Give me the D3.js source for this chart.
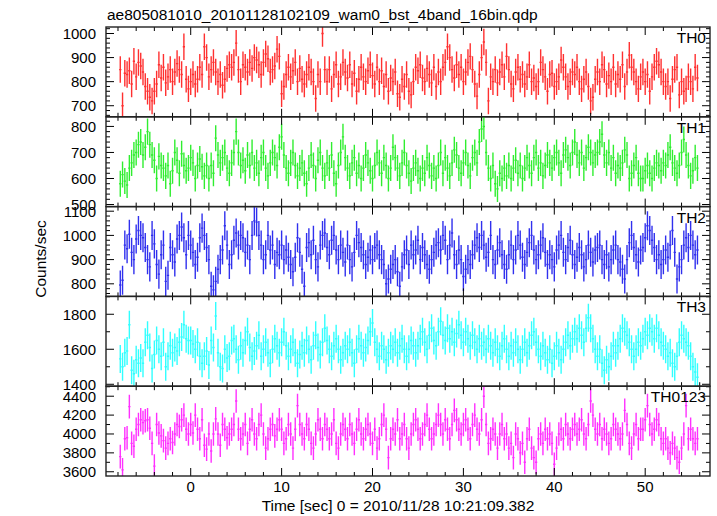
<!DOCTYPE html>
<html><head><meta charset="utf-8">
<script src="https://cdn.jsdelivr.net/npm/d3@7"></script>
<style>
html,body{margin:0;padding:0;background:#fff;}
svg text{font-family:"Liberation Sans",Arial,Helvetica,sans-serif;fill:#000;}
</style></head>
<body>
<script>
// ---- data ----
const title = "ae805081010_20101128102109_wam0_bst_4band_16bin.qdp";
const xLabel = "Time [sec] 0 = 2010/11/28 10:21:09.382";
const yLabel = "Counts/sec";
const bands = ["TH0", "TH1", "TH2", "TH3", "TH0123"];
const tStart = -7.75;      // centre of first bin (s)
const binWidth = 0.25;     // bin width (s)
const xTicks = [0, 10, 20, 30, 40, 50];
const xDomain = [-9.32, 57.13];
const yDomains = [[654, 1027], [492, 837], [748, 1119], [1389, 1902], [3555, 4506]];
const yTicks = [[700, 800, 900, 1000], [500, 600, 700, 800], [800, 900, 1000, 1100], [1400, 1600, 1800], [3600, 3800, 4000, 4200, 4400]];
const yMinorSteps = [20, 20, 20, 100, 100];
const errors = [55, 50, 60, 80, 125];   // typical 1-sigma half length of error bars
const colors = ["#ff3030", "#30ee30", "#3030ee", "#30ffff", "#ff30ff"];

const th0 = [
850,700,835,830,845,790,885,820,880,865,
840,780,760,735,720,760,790,870,815,860,
795,820,850,800,840,875,850,830,945,810,
770,800,830,790,810,860,830,945,900,820,
850,880,840,800,830,785,810,855,870,860,
880,960,850,800,870,860,840,880,855,900,
890,870,830,880,915,895,840,850,865,935,
905,750,780,830,860,820,845,880,800,855,
810,790,830,860,840,800,730,830,800,1000,
850,800,850,770,830,870,790,820,880,840,
815,870,790,835,760,810,860,820,800,845,
870,825,790,860,800,845,780,830,760,815,
800,840,750,735,810,780,830,760,745,800,
860,845,870,815,800,855,830,795,860,780,
840,800,860,880,945,900,850,815,870,830,
860,800,840,880,905,850,790,740,830,900,
965,880,720,820,800,850,795,840,870,820,
905,850,790,770,840,860,810,830,790,820,
870,800,815,780,800,880,850,820,760,830,
835,780,800,820,890,860,820,780,800,840,
830,860,800,770,810,840,780,720,735,810,
840,800,870,850,790,825,800,860,790,830,
810,870,780,840,910,860,840,800,770,820,
840,800,830,760,820,860,885,870,840,800,
780,800,730,810,850,860,745,800,760,770,
820,800,770,860,815];
const th1 = [
580,615,590,575,640,660,690,700,730,740,
690,720,780,730,690,670,600,685,650,640,
610,650,580,630,700,670,620,695,650,630,
640,680,660,600,650,675,645,610,650,600,
650,620,755,690,660,680,700,640,620,660,
700,780,700,650,670,630,690,650,700,640,
660,620,680,700,640,610,660,700,680,650,
720,760,690,640,620,660,700,650,610,640,
660,620,580,640,690,650,600,670,700,640,
610,660,640,690,620,580,650,700,760,680,
640,610,660,680,620,650,600,640,690,660,
630,600,650,700,660,620,680,650,600,640,
720,680,640,610,660,700,650,620,590,640,
660,630,600,640,620,680,650,610,640,600,
650,700,620,680,640,610,660,710,690,640,
620,660,700,650,610,680,700,660,740,790,
800,700,640,600,650,580,560,620,600,640,
610,650,600,640,670,620,650,600,640,680,
650,620,680,700,640,660,610,650,690,660,
640,680,700,660,620,690,710,680,650,700,
740,690,660,700,640,680,720,700,660,690,
700,740,770,690,660,700,640,680,620,650,
640,660,710,690,600,620,650,680,620,600,
600,630,650,620,600,640,660,650,630,660,
650,690,720,660,640,620,650,700,750,690,
650,610,630,680,640];
const th2 = [
795,815,960,945,1005,930,900,985,1020,1000,
990,950,900,870,1000,965,880,840,920,960,
810,835,950,920,890,985,1000,1035,990,920,
1000,960,930,880,910,990,1030,1000,950,900,
790,775,810,860,900,940,1040,960,880,920,
980,1010,960,1000,990,930,960,900,1000,1060,
1055,1000,960,900,920,1000,940,960,880,930,
920,960,900,940,910,880,850,910,990,930,
860,790,950,970,920,980,900,870,960,1000,
1010,950,920,980,1000,940,900,960,930,890,
960,900,870,930,1000,970,950,920,880,910,
940,900,950,960,920,900,880,800,820,860,
880,900,850,790,870,920,940,880,960,920,
940,980,900,950,920,880,860,900,930,960,
970,940,1000,980,900,960,1010,920,880,940,
900,830,860,900,880,920,960,990,950,1000,
960,910,930,1000,900,880,940,970,920,880,
860,920,960,900,940,1000,960,910,880,930,
970,1000,940,900,920,960,990,930,880,920,
900,870,940,960,1000,930,900,950,980,920,
880,910,950,920,870,900,960,930,890,940,
950,960,900,880,920,870,900,940,960,900,
890,860,820,900,970,1000,950,920,890,940,
950,990,1040,1020,980,950,900,920,880,900,
940,910,960,1020,930,820,870,900,960,990,
950,1000,960,920,940];
const th3 = [
1545,1500,1580,1590,1740,1480,1460,1540,1520,1550,
1520,1640,1680,1610,1490,1570,1650,1600,1560,1640,
1500,1560,1620,1580,1610,1590,1640,1670,1740,1660,
1650,1650,1630,1600,1640,1560,1520,1560,1590,1510,
1650,1610,1790,1580,1500,1490,1600,1550,1560,1650,
1660,1600,1540,1620,1580,1650,1700,1610,1560,1590,
1620,1680,1560,1600,1640,1580,1520,1600,1660,1620,
1580,1640,1700,1620,1560,1600,1640,1580,1520,1570,
1620,1580,1650,1600,1540,1620,1680,1610,1570,1640,
1720,1650,1600,1560,1620,1660,1600,1540,1580,1620,
1600,1640,1580,1520,1600,1660,1620,1580,1610,1650,
1700,1750,1640,1600,1560,1620,1600,1540,1580,1620,
1600,1640,1580,1620,1660,1600,1560,1600,1650,1620,
1580,1620,1660,1700,1640,1600,1680,1720,1650,1620,
1700,1760,1680,1650,1720,1660,1700,1640,1690,1740,
1680,1640,1700,1660,1620,1680,1640,1600,1660,1620,
1640,1600,1660,1620,1580,1640,1600,1560,1620,1660,
1600,1560,1620,1580,1640,1600,1540,1600,1640,1580,
1620,1680,1700,1640,1600,1560,1620,1580,1540,1600,
1520,1560,1620,1580,1540,1600,1640,1680,1620,1660,
1700,1660,1720,1680,1640,1720,1780,1720,1660,1600,
1560,1600,1520,1480,1540,1500,1560,1620,1580,1620,
1660,1720,1700,1680,1640,1600,1560,1600,1640,1620,
1660,1700,1680,1720,1700,1660,1720,1680,1640,1620,
1600,1560,1580,1520,1500,1560,1640,1680,1660,1640,
1620,1560,1500,1470,1440];
const th0123 = [
3760,3620,3950,3960,4290,3900,3870,4050,4100,4150,
4120,4140,4150,4060,3900,3660,4100,4010,3980,3930,
3850,3900,3950,3910,4000,4100,4080,4150,4200,4050,
4000,4100,4010,4200,4050,3950,4150,3880,3840,4000,
3820,4000,4160,4000,3880,4100,4050,3960,4000,4050,
4100,4350,4050,3950,4000,4100,3900,4050,4150,4000,
3950,4100,4200,4000,3850,3950,4050,4100,3980,4050,
4150,4050,3900,3950,4100,4000,3850,4050,4300,4100,
4000,3950,4100,4050,3900,3850,4000,4150,4050,3950,
4100,4050,3950,4000,4150,3900,3850,4000,4100,4050,
3950,4100,4000,3900,4050,4150,4000,3950,4050,4100,
4000,3900,4050,3850,3950,4100,4200,4050,3750,3950,
4050,4000,4150,3950,4000,4100,3950,3850,4000,4100,
4150,4050,3950,4000,4100,4200,4050,3950,4000,4100,
4200,4100,4000,4150,4050,3950,4100,4250,4150,4050,
4000,4100,4150,4050,3950,4100,4200,4050,4000,4150,
4400,4100,3900,3950,4050,4000,3850,4000,4100,3950,
4000,3850,3900,3750,4000,3950,3800,3900,3700,3950,
4050,3850,3750,3700,3950,4000,3900,4050,3950,4000,
3900,3680,3850,4000,4050,3950,4100,4000,3950,4050,
4100,4000,4050,4150,4000,3950,4100,4350,4200,4050,
4000,4100,3950,4050,4000,3900,3950,4100,4050,4000,
3950,4000,4250,4100,3900,3850,4000,4100,3950,4050,
4050,4150,4300,4100,4000,4050,4150,4100,3950,3900,
3950,3850,3800,3900,3850,3750,3700,3850,4000,4300,
3950,4050,3950,3900,3950];
const series = [th0, th1, th2, th3, th0123];

// ---- layout ----
const W = 717, H = 516;
const left = 106, right = 710;
const panelTops = [27, 116.8, 206.6, 296.4, 386.2];
const panelH = 89.8;

const svg = d3.select("body").append("svg").attr("width", W).attr("height", H);
const x = d3.scaleLinear().domain(xDomain).range([left, right]);
const xMinor = d3.range(-8, 57, 2);

// title
svg.append("text").attr("x", 107).attr("y", 20).attr("font-size", 15.5).text(title);
// x label
svg.append("text").attr("x", 398).attr("y", 511).attr("text-anchor", "middle").attr("font-size", 15.5).text(xLabel);
// y label
svg.append("text").attr("transform", "translate(46,259) rotate(-90)").attr("text-anchor", "middle").attr("font-size", 15.5).text(yLabel);

series.forEach((vals, p) => {
  const top = panelTops[p], bot = top + panelH;
  const y = d3.scaleLinear().domain(yDomains[p]).range([bot, top]);
  const g = svg.append("g");
  const clipId = "clip" + p;
  svg.append("clipPath").attr("id", clipId).append("rect")
    .attr("x", left).attr("y", top).attr("width", right - left).attr("height", panelH);

  const data = vals.map((v, i) => ({ t: tStart + i * binWidth, v }));
  const dg = g.append("g").attr("clip-path", `url(#${clipId})`)
    .attr("stroke", colors[p]).attr("stroke-width", 1.4).attr("fill", "none");
  dg.selectAll("line.h").data(data).join("line").attr("class", "h")
    .attr("x1", d => x(d.t - binWidth / 2)).attr("x2", d => x(d.t + binWidth / 2))
    .attr("y1", d => y(d.v)).attr("y2", d => y(d.v));
  dg.selectAll("line.v").data(data).join("line").attr("class", "v")
    .attr("x1", d => x(d.t)).attr("x2", d => x(d.t))
    .attr("y1", d => y(d.v - errors[p])).attr("y2", d => y(d.v + errors[p]));

  // ticks
  const tg = g.append("g").attr("stroke", "#000").attr("stroke-width", 1);
  const yMinor = d3.range(Math.ceil(yDomains[p][0] / yMinorSteps[p]) * yMinorSteps[p], yDomains[p][1], yMinorSteps[p]);
  yMinor.forEach(v => {
    const major = yTicks[p].includes(v);
    const len = major ? 8 : 4;
    tg.append("line").attr("x1", left).attr("x2", left + len).attr("y1", y(v)).attr("y2", y(v));
    tg.append("line").attr("x1", right).attr("x2", right - len).attr("y1", y(v)).attr("y2", y(v));
  });
  xMinor.forEach(t => {
    const major = xTicks.includes(t);
    const len = major ? 8 : 4;
    tg.append("line").attr("x1", x(t)).attr("x2", x(t)).attr("y1", bot).attr("y2", bot - len);
    tg.append("line").attr("x1", x(t)).attr("x2", x(t)).attr("y1", top).attr("y2", top + len);
  });
  // frame
  g.append("rect").attr("x", left).attr("y", top).attr("width", right - left).attr("height", panelH)
    .attr("fill", "none").attr("stroke", "#222").attr("stroke-width", 1.4);

  // y tick labels
  g.selectAll("text.yl").data(yTicks[p]).join("text").attr("class", "yl")
    .attr("x", 96).attr("y", d => y(d)).attr("dy", "0.36em")
    .attr("text-anchor", "end").attr("font-size", 15).text(d => d);
  // band label
  g.append("text").attr("x", 706).attr("y", top + 16).attr("text-anchor", "end")
    .attr("font-size", 15.5).text(bands[p]);

  if (p === series.length - 1) {
    g.selectAll("text.xl").data(xTicks).join("text").attr("class", "xl")
      .attr("x", d => x(d)).attr("y", bot + 16).attr("text-anchor", "middle")
      .attr("font-size", 15).text(d => d);
  }
});
</script>
</body></html>
